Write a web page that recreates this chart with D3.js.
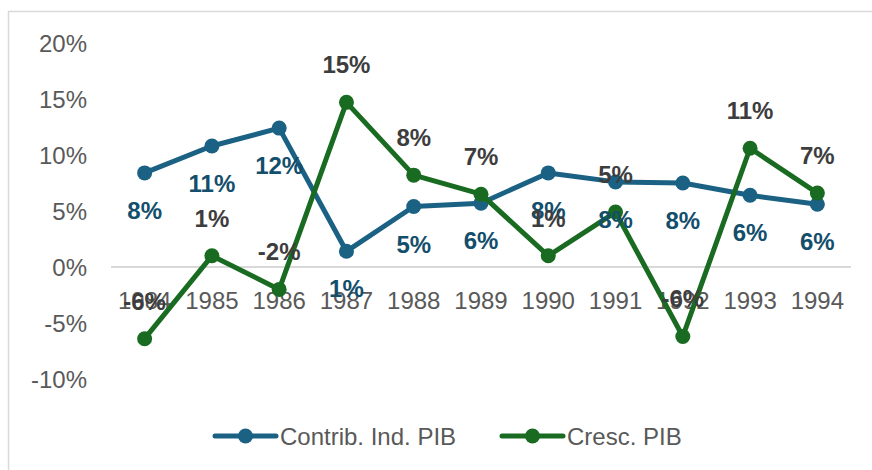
<!doctype html>
<html lang="pt">
<head>
  <meta charset="utf-8">
  <title>Contrib. Ind. PIB vs Cresc. PIB</title>
  <script src="https://d3js.org/d3.v7.min.js"></script>
  <style>
    body { margin:0; background:#fff; }
    text { font-family:"Liberation Sans", Arial, sans-serif; }
    .tick-label { font-size:24px; fill:#595959; }
    .data-label { font-size:24px; font-weight:bold; }
  </style>
</head>
<body>
<div id="chart"></div>
<script>
  var years = ["1984","1985","1986","1987","1988","1989","1990","1991","1992","1993","1994"];
  var contribInd = [8.4, 10.8, 12.4, 1.4, 5.4, 5.7, 8.4, 7.6, 7.5, 6.4, 5.6];
  var crescPib = [-6.4, 1.0, -2.0, 14.7, 8.2, 6.5, 1.0, 4.9, -6.2, 10.6, 6.6];
  var yTicks = [-10, -5, 0, 5, 10, 15, 20];

  var width = 872, height = 470;

  var svg = d3.select("#chart").append("svg")
    .attr("width", width)
    .attr("height", height);

  // chart frame (top and left edges visible)
  svg.append("rect")
    .attr("x", 8.5).attr("y", 11.5)
    .attr("width", 900).attr("height", 500)
    .attr("fill", "none")
    .attr("stroke", "#d9d9d9")
    .attr("stroke-width", 1.5);

  var x = d3.scaleBand().domain(years).range([111, 851]);
  var y = d3.scaleLinear().domain([-10, 20]).range([379, 43]);
  var cx = function(d, i) { return x(years[i]) + x.bandwidth() / 2; };

  // y labels
  svg.selectAll(".ylab").data(yTicks).enter().append("text")
    .attr("class", "tick-label")
    .attr("x", 87)
    .attr("y", function(d) { return y(d) + 9; })
    .attr("text-anchor", "end")
    .text(function(d) { return d + "%"; });

  // zero line
  svg.append("line")
    .attr("x1", x.range()[0]).attr("x2", x.range()[1])
    .attr("y1", y(0)).attr("y2", y(0))
    .attr("stroke", "#d9d9d9")
    .attr("stroke-width", 2);

  // x labels
  svg.selectAll(".xlab").data(years).enter().append("text")
    .attr("class", "tick-label")
    .attr("x", function(d) { return x(d) + x.bandwidth() / 2; })
    .attr("y", 309)
    .attr("text-anchor", "middle")
    .text(function(d) { return d; });

  var series = [
    { name: "Contrib. Ind. PIB", values: contribInd, color: "#1b6184", labelColor: "#134e6c", below: true },
    { name: "Cresc. PIB", values: crescPib, color: "#1a6b22", labelColor: "#3d3d3d", below: false }
  ];

  var line = d3.line()
    .x(function(d, i) { return cx(d, i); })
    .y(function(d) { return y(d); });

  series.forEach(function(s) {
    svg.append("path")
      .datum(s.values)
      .attr("d", line)
      .attr("fill", "none")
      .attr("stroke", s.color)
      .attr("stroke-width", 5)
      .attr("stroke-linejoin", "round");

    svg.selectAll(null).data(s.values).enter().append("circle")
      .attr("cx", cx)
      .attr("cy", function(d) { return y(d); })
      .attr("r", 7.5)
      .attr("fill", s.color);
  });

  // data labels drawn after all lines
  series.forEach(function(s) {
    svg.selectAll(null).data(s.values).enter().append("text")
      .attr("class", "data-label")
      .attr("x", cx)
      .attr("y", function(d) { return s.below ? y(d) + 46 : y(d) - 29; })
      .attr("text-anchor", "middle")
      .attr("fill", s.labelColor)
      .text(function(d) { return Math.round(d) + "%"; });
  });

  // legend
  var legendItems = [
    { s: series[0], x0: 215, tx: 280 },
    { s: series[1], x0: 502, tx: 567 }
  ];
  legendItems.forEach(function(l) {
    svg.append("line")
      .attr("x1", l.x0).attr("x2", l.x0 + 61)
      .attr("y1", 436).attr("y2", 436)
      .attr("stroke", l.s.color)
      .attr("stroke-width", 5)
      .attr("stroke-linecap", "round");
    svg.append("circle")
      .attr("cx", l.x0 + 30.5).attr("cy", 436)
      .attr("r", 7.5)
      .attr("fill", l.s.color);
    svg.append("text")
      .attr("class", "tick-label")
      .attr("x", l.tx).attr("y", 445)
      .text(l.s.name);
  });
</script>
</body>
</html>
